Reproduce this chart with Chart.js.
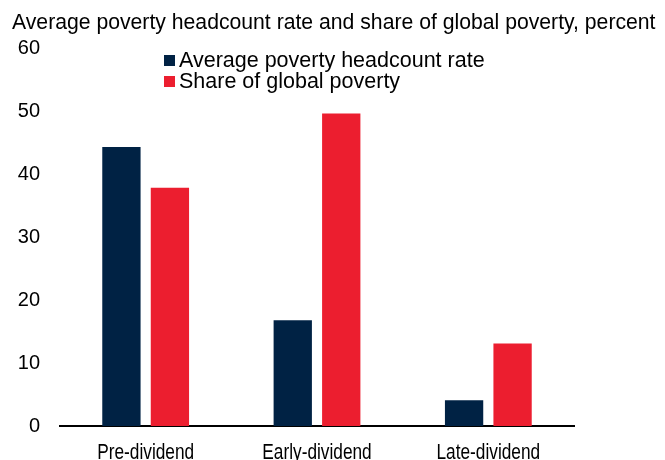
<!DOCTYPE html>
<html>
<head>
<meta charset="utf-8">
<script src="https://cdn.jsdelivr.net/npm/chart.js@4"></script>
<style>
  body { margin: 0; background: #fff; }
  #wrap { width: 665px; height: 460px; }
</style>
</head>
<body>
<div id="wrap"><canvas id="chart" width="665" height="460"></canvas></div>
<script>
// ===== DATA =====
const categories = ["Pre-dividend", "Early-dividend", "Late-dividend"];
const headcountRate = [44.3, 16.8, 4.1];
const globalShare = [37.8, 49.6, 13.1];
const seriesNames = ["Average poverty headcount rate", "Share of global poverty"];
const titleText = "Average poverty headcount rate and share of global poverty, percent";

const NAVY = "#002244";
const RED = "#ec1e2f";
const FONT = "'Liberation Sans', Arial, sans-serif";

// title, legend and the condensed category labels are drawn by hand
const overlay = {
    id: "overlay",
    afterDraw(chart) {
        const ctx = chart.ctx;
        ctx.save();
        ctx.fillStyle = "#000";
        ctx.textAlign = "left";
        ctx.textBaseline = "middle";
        ctx.font = "21.2px " + FONT;
        ctx.fillText(titleText, 12, 23);

        ctx.font = "21.5px " + FONT;
        const colors = [NAVY, RED];
        seriesNames.forEach((name, i) => {
            const y = 60.5 + i * 21;
            ctx.fillStyle = colors[i];
            ctx.fillRect(164, y - 5.5, 11, 11);
            ctx.fillStyle = "#000";
            ctx.fillText(name, 179, y + 1);
        });

        // no narrow font installed, so squeeze the regular one
        const xScale = chart.scales.x;
        ctx.font = "22px " + FONT;
        ctx.textAlign = "center";
        ctx.textBaseline = "alphabetic";
        categories.forEach((cat, i) => {
            const px = xScale.getPixelForTick(i);
            ctx.save();
            ctx.translate(px, 458.5);
            ctx.scale(0.785, 1);
            ctx.fillText(cat, 0, 0);
            ctx.restore();
        });
        ctx.restore();
    }
};

new Chart(document.getElementById("chart"), {
    type: "bar",
    data: {
        labels: categories,
        datasets: [
            { label: seriesNames[0], data: headcountRate, backgroundColor: NAVY },
            { label: seriesNames[1], data: globalShare, backgroundColor: RED }
        ]
    },
    options: {
        responsive: false,
        animation: false,
        categoryPercentage: 0.566,
        barPercentage: 0.79,
        layout: { padding: { top: 48, right: 91, bottom: 0, left: 0 } },
        plugins: {
            legend: { display: false },
            title: { display: false },
            tooltip: { enabled: false }
        },
        scales: {
            x: {
                grid: { display: false, drawTicks: false },
                border: { display: true, color: "#000", width: 2 },
                ticks: { color: "rgba(0,0,0,0)", font: { family: FONT, size: 20 }, padding: 12, maxRotation: 0 },
                afterFit: axis => { axis.height = 34; }
            },
            y: {
                min: 0,
                max: 60,
                grid: { display: false, drawTicks: false },
                border: { display: false },
                ticks: { stepSize: 10, color: "#000", font: { family: FONT, size: 20 }, padding: 20 },
                afterFit: axis => { axis.width = 60; }
            }
        }
    },
    plugins: [overlay]
});
</script>
</body>
</html>
